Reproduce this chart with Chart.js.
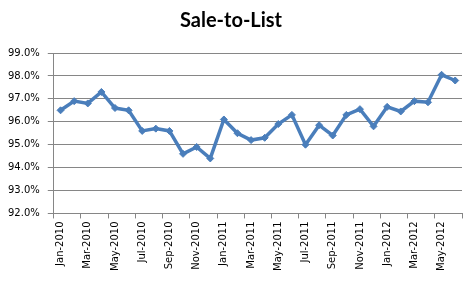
<!DOCTYPE html>
<html>
<head>
<meta charset="utf-8">
<script src="https://cdn.jsdelivr.net/npm/chart.js@4"></script>
<style>
  html, body { margin: 0; padding: 0; background: #fff; }
  #wrap { width: 474px; height: 281px; }
</style>
</head>
<body>
<div id="wrap"><canvas id="chart"></canvas></div>
<script>
const months = [
  'Jan-2010', 'Feb-2010', 'Mar-2010', 'Apr-2010', 'May-2010', 'Jun-2010',
  'Jul-2010', 'Aug-2010', 'Sep-2010', 'Oct-2010', 'Nov-2010', 'Dec-2010',
  'Jan-2011', 'Feb-2011', 'Mar-2011', 'Apr-2011', 'May-2011', 'Jun-2011',
  'Jul-2011', 'Aug-2011', 'Sep-2011', 'Oct-2011', 'Nov-2011', 'Dec-2011',
  'Jan-2012', 'Feb-2012', 'Mar-2012', 'Apr-2012', 'May-2012', 'Jun-2012',
];
const saleToList = [
  96.5, 96.9, 96.8, 97.3, 96.6, 96.5,
  95.6, 95.7, 95.6, 94.6, 94.9, 94.4,
  96.1, 95.5, 95.2, 95.3, 95.9, 96.3,
  95.0, 95.85, 95.4, 96.3, 96.55, 95.8,
  96.65, 96.45, 96.9, 96.85, 98.05, 97.8,
];
const yMin = 92;
const yMax = 99;

const gray = '#868686';
const blue = '#4a7ebb';

const ctx = document.getElementById('chart');

new Chart(ctx, {
  type: 'line',
  data: {
    labels: months,
    datasets: [
      {
        label: 'Sale-to-List',
        data: saleToList,
        borderColor: blue,
        backgroundColor: blue,
        borderWidth: 3.5,
        pointStyle: 'rectRot',
        pointRadius: 3.5,
        pointBorderWidth: 1,
        tension: 0,
      },
    ],
  },
  options: {
    responsive: true,
    maintainAspectRatio: false,
    animation: false,
    layout: {
      padding: { left: 0, right: 12, top: 0, bottom: 7 },
    },
    plugins: {
      legend: { display: false },
      tooltip: { enabled: false },
      title: {
        display: true,
        text: 'Sale-to-List',
        color: '#000',
        font: { family: 'Lato', size: 20, weight: 'bold' },
        padding: { top: 9, bottom: 20 },
      },
    },
    scales: {
      x: {
        offset: true,
        grid: {
          offset: true,
          drawOnChartArea: false,
          drawTicks: true,
          tickLength: 5,
          color: (c) => (c.index === undefined || c.index % 2 === 0 ? gray : 'rgba(0,0,0,0)'),
        },
        border: { display: true, color: gray },
        ticks: {
          autoSkip: false,
          maxRotation: 90,
          minRotation: 90,
          color: '#000',
          font: { family: 'DejaVu Sans', size: 10 },
          padding: 3,
          callback: function (value, index) {
            return index % 2 === 0 ? this.getLabelForValue(value) : '';
          },
        },
      },
      y: {
        min: yMin,
        max: yMax,
        grid: {
          color: gray,
          drawTicks: true,
          tickLength: 6,
        },
        border: { display: true, color: gray },
        ticks: {
          stepSize: 1,
          color: '#000',
          font: { family: 'DejaVu Sans', size: 10 },
          padding: 8,
          callback: (v) => v.toFixed(1) + '%',
        },
      },
    },
  },
});
</script>
</body>
</html>
